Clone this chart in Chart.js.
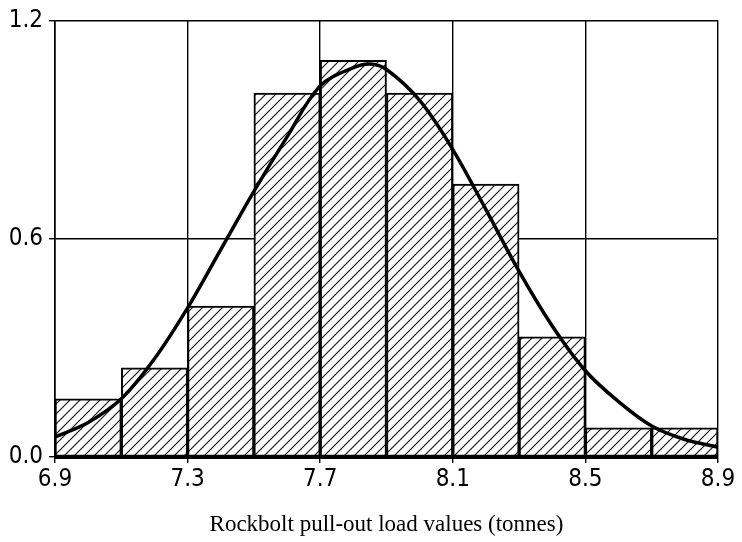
<!DOCTYPE html>
<html>
<head>
<meta charset="utf-8">
<script src="https://cdn.jsdelivr.net/npm/chart.js@4.4.1/dist/chart.umd.min.js"></script>
<style>
  html, body { margin: 0; padding: 0; background: #ffffff; }
  #wrap { width: 742px; height: 542px; }
</style>
</head>
<body>
<div id="wrap"><canvas id="c" width="742" height="542"></canvas></div>
<script>
// ---- data ----
const binCenters = [7.0, 7.2, 7.4, 7.6, 7.8, 8.0, 8.2, 8.4, 8.6, 8.8];
const binHeights = [0.16, 0.245, 0.415, 1.0, 1.09, 1.0, 0.75, 0.33, 0.08, 0.08];
const curveX = [6.9, 7.0, 7.1, 7.2, 7.3, 7.4, 7.5, 7.6, 7.7, 7.8, 7.85, 7.9, 8.0, 8.1, 8.2, 8.3, 8.4, 8.5, 8.6, 8.7, 8.8, 8.9];
const curveY = [0.055, 0.095, 0.16, 0.27, 0.41, 0.57, 0.73, 0.88, 1.02, 1.07, 1.08, 1.065, 0.98, 0.845, 0.68, 0.51, 0.36, 0.237, 0.152, 0.085, 0.048, 0.027];
const xTicks = [6.9, 7.3, 7.7, 8.1, 8.5, 8.9];
const yTicks = [0.0, 0.6, 1.2];
const xTitle = 'Rockbolt pull-out load values (tonnes)';

// hatch pattern (white background, diagonal lines)
function makeHatch() {
  const s = 10;
  const p = document.createElement('canvas');
  p.width = s; p.height = s;
  const g = p.getContext('2d');
  g.fillStyle = '#ffffff';
  g.fillRect(0, 0, s, s);
  g.strokeStyle = '#1a1a1a';
  g.lineWidth = 1.2;
  g.beginPath();
  g.moveTo(-1, s + 1); g.lineTo(s + 1, -1);
  g.moveTo(-1, 1); g.lineTo(1, -1);
  g.moveTo(s - 1, s + 1); g.lineTo(s + 1, s - 1);
  g.stroke();
  return g.createPattern(p, 'repeat');
}
const hatch = makeHatch();

const tickFont = { family: "'Liberation Sans Narrow', 'DejaVu Sans Condensed', 'Liberation Sans', sans-serif", size: 24 };

new Chart(document.getElementById('c'), {
  data: {
    datasets: [
      {
        type: 'line',
        data: curveX.map((x, i) => ({ x: x, y: curveY[i] })),
        borderColor: '#000000',
        borderWidth: 3.5,
        pointRadius: 0,
        tension: 0.35,
        fill: false,
        order: 0
      },
      {
        type: 'bar',
        data: binCenters.map((x, i) => ({ x: x, y: binHeights[i] })),
        backgroundColor: hatch,
        borderColor: '#000000',
        borderWidth: 2,
        borderSkipped: false,
        barPercentage: 1,
        categoryPercentage: 1,
        grouped: false,
        order: 1
      }
    ]
  },
  options: {
    responsive: false,
    animation: false,
    events: [],
    layout: { padding: { left: 0, right: 24, top: 17, bottom: 0 } },
    plugins: { legend: { display: false }, tooltip: { enabled: false } },
    scales: {
      x: {
        type: 'linear',
        min: 6.9,
        max: 8.9,
        offset: false,
        afterBuildTicks: (s) => { s.ticks = xTicks.map(v => ({ value: v })); },
        afterFit: (s) => { s.height = 85; },
        ticks: {
          color: '#000000',
          font: tickFont,
          padding: 2,
          maxRotation: 0,
          autoSkip: false,
          callback: (v) => Number(v).toFixed(1)
        },
        grid: { offset: false, color: '#000000', lineWidth: 1.4, tickLength: 6, tickColor: '#000000', drawTicks: true },
        border: { display: true, color: '#000000', width: 3 },
        title: {
          display: true,
          text: xTitle,
          color: '#000000',
          font: { family: "'Liberation Serif', 'DejaVu Serif', serif", size: 23 },
          padding: { top: 0, bottom: 3 }
        }
      },
      y: {
        type: 'linear',
        min: 0,
        max: 1.2,
        afterBuildTicks: (s) => { s.ticks = yTicks.map(v => ({ value: v })); },
        afterFit: (s) => { s.width = 55; },
        ticks: {
          color: '#000000',
          font: tickFont,
          padding: 6,
          callback: (v) => Number(v).toFixed(1)
        },
        grid: { offset: false, color: '#000000', lineWidth: 1.4, tickLength: 6, tickColor: '#000000', drawTicks: true },
        border: { display: true, color: '#000000', width: 1.6 }
      }
    }
  }
});
</script>
</body>
</html>
